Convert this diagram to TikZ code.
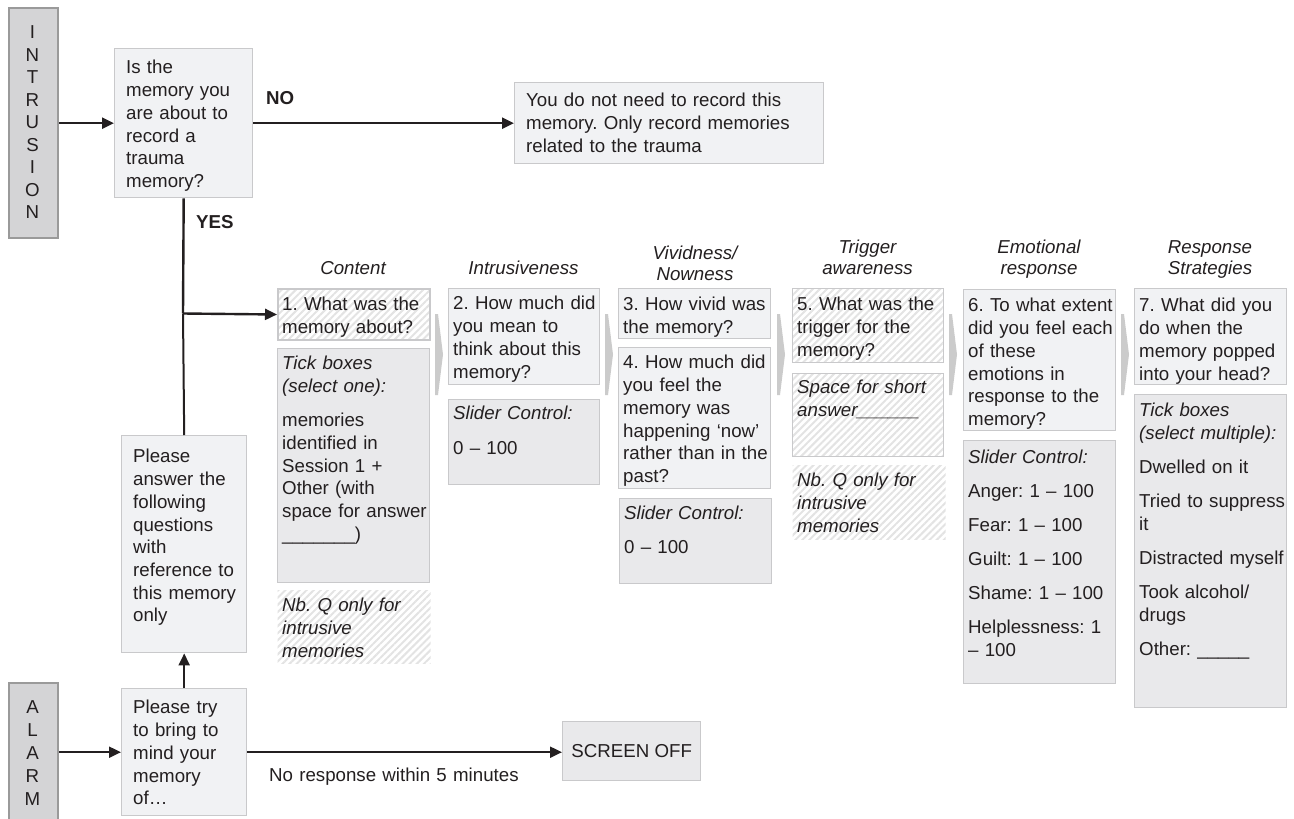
\documentclass[tikz,border=0pt]{standalone}
\usepackage{fontspec}
\setmainfont{Liberation Sans}
\usetikzlibrary{arrows.meta,patterns.meta}
\definecolor{ink}{HTML}{231F20}
\definecolor{qfill}{HTML}{F1F2F4}
\definecolor{dfill}{HTML}{E9E9EB}
\definecolor{bord}{HTML}{C9C9CB}
\definecolor{sidefill}{HTML}{D4D4D6}
\definecolor{sidebord}{HTML}{9A9A9A}
\definecolor{hatch}{HTML}{E3E3E3}
\definecolor{chev}{HTML}{CBCBCB}
\frenchspacing
\begin{document}
\begin{tikzpicture}[x=1pt,y=-1pt,
  every node/.style={text=ink},
  base/.style={draw=bord, line width=1.4pt, inner sep=0, anchor=north west},
  qbox/.style={base, fill=qfill},
  dbox/.style={base, fill=dfill},
  hbox/.style={base, pattern={Lines[angle=45,distance=5pt,line width=2pt]}, pattern color=hatch},
  nbox/.style={hbox, draw=none},
  sidebox/.style={base, draw=sidebord, fill=sidefill, line width=2pt},
  txt/.style={anchor=north west, inner sep=0, text width=170pt, align=left, font=\fontsize{18.7}{22.7}\selectfont\frenchspacing, execute at begin node={\rule{0pt}{14pt}}},
  hdr/.style={anchor=north, inner sep=0, text width=160pt, align=center, font=\fontsize{18.7}{21}\selectfont\itshape, execute at begin node={\rule{0pt}{14pt}}},
  vert/.style={anchor=north, inner sep=0, text width=40pt, align=center, execute at begin node={\rule{0pt}{14pt}}},
  lbl/.style={inner sep=0, font=\fontsize{18.7}{22.7}\selectfont},
  ln/.style={draw=ink, line width=2.4pt},
  arr/.style={ln, -{Triangle[length=12pt,width=11pt]}},
  chevron/.style={fill=chev, draw=none},
]
\useasboundingbox (0,0) rectangle (1294,819);

% side boxes
\node[sidebox, minimum width=49pt, minimum height=230pt] (intr) at (8,7) {};
\node[vert, font=\fontsize{18.7}{22.5}\selectfont] (intrt) at (32.5,24.7) {I\\N\\T\\R\\U\\S\\I\\O\\N};
\node[sidebox, minimum width=49pt, minimum height=145pt] (alarm) at (8,682) {};
\node[vert, font=\fontsize{18.7}{22.8}\selectfont] (alarmt) at (32.5,699.7) {A\\L\\A\\R\\M};

% left flow boxes
\node[qbox, minimum width=138pt, minimum height=149pt] (q0) at (114,48) {};
\node[txt] (q0t) at (126,59.7) {Is the\\memory you\\are about to\\record a\\trauma\\memory?};
\node[qbox, minimum width=309pt, minimum height=81pt] (nobox) at (514,82) {};
\node[txt, text width=300pt] (nobt) at (526,92.7) {You do not need to record this\\memory. Only record memories\\related to the trauma};
\node[qbox, minimum width=125pt, minimum height=217pt] (pans) at (121,435) {};
\node[txt] (pant) at (133,448.7) {Please\\answer the\\following\\questions\\with\\reference to\\this memory\\only};
\node[qbox, minimum width=125pt, minimum height=127pt] (ptry) at (121,688) {};
\node[txt] (ptryt) at (133,699.7) {Please try\\to bring to\\mind your\\memory\\of…};
\node[dbox, minimum width=138pt, minimum height=59pt] (scr) at (562,721) {};
\node[lbl] (scrt) at (scr.center) {SCREEN OFF};

% labels
\node[lbl, anchor=west, font=\fontsize{18.7}{22.7}\selectfont\bfseries] (nol) at (266,98) {NO};
\node[lbl, anchor=west, font=\fontsize{18.7}{22.7}\selectfont\bfseries] (yesl) at (196,222) {YES};
\node[txt, text width=250pt] (noresp) at (269,767.7) {No response within 5 minutes};

% column headers
\node[hdr] (h1) at (353,260.7) {Content};
\node[hdr] (h2) at (523.5,260.7) {Intrusiveness};
\node[hdr] (h3) at (695,245.7) {Vividness/\\Nowness};
\node[hdr] (h4) at (867.5,239.7) {Trigger\\awareness};
\node[hdr] (h5) at (1039,239.7) {Emotional\\response};
\node[hdr] (h6) at (1210,239.7) {Response\\Strategies};

% column 1
\node[hbox, minimum width=152pt, minimum height=51pt] (q1) at (277,288) {};
\node[txt] (q1t) at (282,296.7) {1. What was the\\memory about?};
\node[dbox, minimum width=152pt, minimum height=234pt] (t1) at (277,348) {};
\node[txt] (t1t) at (282,355.7) {\textit{Tick boxes}\\\textit{(select one):}\\[11.3pt]memories\\identified in\\Session 1 +\\Other (with\\space for answer\\\_\_\_\_\_\_\_)};
\node[nbox, minimum width=153pt, minimum height=73pt] (nb1) at (277,590) {};
\node[txt, font=\fontsize{18.7}{22.7}\selectfont\itshape] (nb1t) at (282,597.7) {Nb. Q only for\\intrusive\\memories};

% column 2
\node[qbox, minimum width=151pt, minimum height=96pt] (q2) at (448,288) {};
\node[txt] (q2t) at (453,295.7) {2. How much did\\you mean to\\think about this\\memory?};
\node[dbox, minimum width=151pt, minimum height=85pt] (s2) at (448,399) {};
\node[txt] (s2t) at (453,405.7) {\textit{Slider Control:}\\[11.8pt]0 – 100};

% column 3
\node[qbox, minimum width=152pt, minimum height=50pt] (q3) at (618,288) {};
\node[txt] (q3t) at (623,296.7) {3. How vivid was\\the memory?};
\node[qbox, minimum width=152pt, minimum height=141pt] (q4) at (618,347) {};
\node[txt] (q4t) at (623,354.7) {4. How much did\\you feel the\\memory was\\happening ‘now’\\rather than in the\\past?};
\node[dbox, minimum width=152pt, minimum height=85pt] (s3) at (619,498) {};
\node[txt] (s3t) at (624,505.7) {\textit{Slider Control:}\\[11.3pt]0 – 100};

% column 4
\node[hbox, minimum width=151pt, minimum height=74pt] (q5) at (792,288) {};
\node[txt] (q5t) at (797,296.7) {5. What was the\\trigger for the\\memory?};
\node[hbox, minimum width=151pt, minimum height=83pt] (sp5) at (792,373) {};
\node[txt, font=\fontsize{18.7}{22.7}\selectfont\itshape] (sp5t) at (797,379.7) {Space for short\\answer\_\_\_\_\_\_};
\node[nbox, minimum width=153pt, minimum height=74pt] (nb5) at (792,465) {};
\node[txt, font=\fontsize{18.7}{22.7}\selectfont\itshape] (nb5t) at (797,472.7) {Nb. Q only for\\intrusive\\memories};

% column 5
\node[qbox, minimum width=152pt, minimum height=141pt] (q6) at (963,289) {};
\node[txt] (q6t) at (968,297.7) {6. To what extent\\did you feel each\\of these\\emotions in\\response to the\\memory?};
\node[dbox, minimum width=152pt, minimum height=243pt] (s6) at (963,440) {};
\node[txt] (s6t) at (968,449.7) {\textit{Slider Control:}\\[11.3pt]Anger: 1 – 100\\[11.3pt]Fear: 1 – 100\\[11.3pt]Guilt: 1 – 100\\[11.3pt]Shame: 1 – 100\\[11.3pt]Helplessness: 1\\– 100};

% column 6
\node[qbox, minimum width=152pt, minimum height=96pt] (q7) at (1134,288) {};
\node[txt] (q7t) at (1139,297.7) {7. What did you\\do when the\\memory popped\\into your head?};
\node[dbox, minimum width=152pt, minimum height=313pt] (t7) at (1134,394) {};
\node[txt] (t7t) at (1139,402.7) {\textit{Tick boxes}\\\textit{(select multiple):}\\[11.3pt]Dwelled on it\\[11.3pt]Tried to suppress\\it\\[11.3pt]Distracted myself\\[11.3pt]Took alcohol/\\drugs\\[11.3pt]Other: \_\_\_\_\_};

% chevrons between columns
\foreach \cx in {435,605,777,949,1121}
  \fill[chevron] (\cx,314) -- (\cx+3,314) -- (\cx+8,354.5) -- (\cx+3,395) -- (\cx,395) -- cycle;

% connectors
\coordinate (j) at (183,313.5);
\draw[arr] (intr.east |- q0.west) -- (q0.west);
\draw[arr] (q0.east) -- (nobox.west);
\draw[ln] (q0.south) -- (j);
\draw[arr] (j) -- (q1.west);
\draw[ln, line width=2pt] (pans.north) -- (j);
\draw[arr, line width=2pt] (ptry.north) -- (pans.south);
\draw[arr, line width=2pt] (alarm.east |- ptry.west) -- (ptry.west);
\draw[arr, line width=2pt] (ptry.east) -- (ptry.east -| scr.west);
\end{tikzpicture}
\end{document}
